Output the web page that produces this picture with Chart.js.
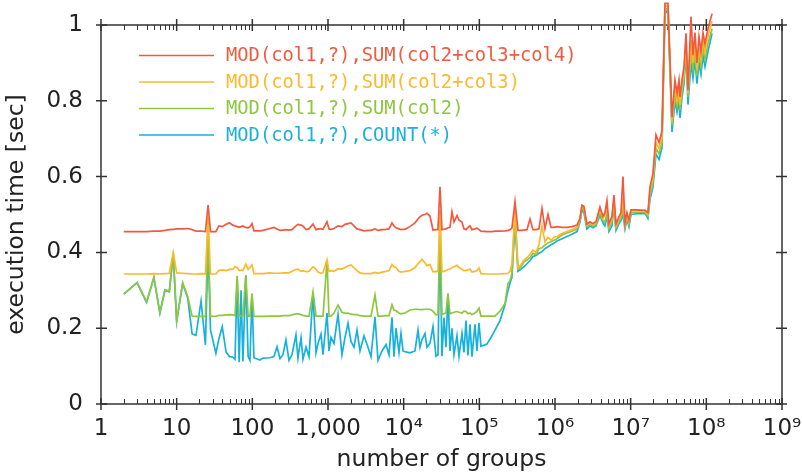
<!DOCTYPE html>
<html>
<head>
<meta charset="utf-8">
<script src="https://cdn.jsdelivr.net/npm/chart.js@4.4.0/dist/chart.umd.min.js"></script>
<style>
  html, body { margin: 0; padding: 0; background: #fff; }
</style>
</head>
<body>
<canvas id="timeChart" width="802" height="472"></canvas>
<script>
/* ============================
   DATA
============================ */
const groups = [
  2, 3, 4, 5, 6, 7, 8, 9, 10, 12,
  14, 16, 18, 21, 24, 26, 28, 33, 36, 40,
  45, 50, 55, 59, 63, 67, 71, 75, 82, 88,
  93, 99, 105, 126, 138, 171, 193, 212, 232, 254,
  278, 305, 334, 377, 401, 440, 467, 512, 561, 634,
  694, 738, 808, 859, 970, 1030, 1095, 1200, 1355, 1530,
  1676, 1837, 2013, 2205, 2416, 2647, 2990, 3377, 3700, 4179,
  4579, 5170, 5840, 6400, 7010, 7450, 7915, 8670, 9220, 9800,
  10410, 12110, 14110, 15460, 16430, 17460, 19130, 20330, 22270, 24400,
  26730, 28400, 30190, 32080, 34100, 36240, 38510, 40930, 43500, 46230,
  50640, 53820, 58960, 62660, 66590, 70770, 75210, 79930, 87550, 93050,
  98890, 105100, 126100, 146900, 161000, 187500, 218400, 239000, 254000, 270000,
  296000, 324000, 355000, 389000, 426000, 467000, 512000, 561000, 614000, 673000,
  737000, 808000, 885000, 969000, 1.06e6, 1.24e6, 1.44e6, 1.68e6, 1.95e6, 2.14e6,
  2.27e6, 2.41e6, 2.64e6, 2.9e6, 3.17e6, 3.48e6, 3.93e6, 4.3e6, 4.57e6, 4.86e6,
  5.16e6, 5.66e6, 6.01e6, 6.39e6, 7e6, 7.44e6, 7.91e6, 8.41e6, 8.93e6, 9.49e6,
  1.01e7, 1.21e7, 1.55e7, 1.69e7, 1.8e7, 1.97e7, 2.16e7, 2.37e7, 2.59e7, 2.84e7,
  3.11e7, 3.52e7, 3.85e7, 4.1e7, 4.35e7, 4.49e7, 4.77e7, 5.07e7, 5.39e7, 5.72e7,
  6.27e7, 6.66e7, 7.08e7, 7.52e7, 8e7, 8.5e7, 9.03e7, 9.6e7, 1.05e8, 1.19e8,
];

// MOD(col1,?),SUM(col2+col3+col4)
const modSum3 = [
  0.455, 0.455, 0.455, 0.456, 0.456, 0.458, 0.46, 0.461, 0.462, 0.462,
  0.463, 0.46, 0.456, 0.456, 0.455, 0.525, 0.455, 0.455, 0.47, 0.468,
  0.474, 0.478, 0.472, 0.47, 0.468, 0.466, 0.468, 0.47, 0.466, 0.465,
  0.468, 0.476, 0.457, 0.457, 0.458, 0.463, 0.466, 0.462, 0.458, 0.459,
  0.46, 0.459, 0.46, 0.47, 0.474, 0.472, 0.47, 0.46, 0.462, 0.475,
  0.46, 0.462, 0.462, 0.461, 0.481, 0.462, 0.461, 0.463, 0.47, 0.468,
  0.474, 0.476, 0.478, 0.47, 0.462, 0.46, 0.457, 0.458, 0.458, 0.462,
  0.458, 0.46, 0.461, 0.462, 0.478, 0.47, 0.465, 0.462, 0.46, 0.461,
  0.461, 0.468, 0.478, 0.488, 0.494, 0.498, 0.5, 0.503, 0.496, 0.459,
  0.46, 0.46, 0.573, 0.46, 0.461, 0.462, 0.465, 0.466, 0.507, 0.48,
  0.497, 0.485, 0.48, 0.462, 0.46, 0.466, 0.47, 0.46, 0.462, 0.464,
  0.46, 0.456, 0.455, 0.455, 0.456, 0.456, 0.457, 0.458, 0.46, 0.465,
  0.534, 0.458, 0.458, 0.459, 0.46, 0.488, 0.46, 0.46, 0.462, 0.516,
  0.463, 0.5, 0.466, 0.466, 0.468, 0.466, 0.466, 0.468, 0.472, 0.49,
  0.525, 0.522, 0.475, 0.481, 0.476, 0.481, 0.52, 0.495, 0.505, 0.537,
  0.475, 0.495, 0.551, 0.475, 0.494, 0.505, 0.6, 0.478, 0.505, 0.485,
  0.512, 0.512, 0.511, 0.505, 0.573, 0.608, 0.71, 0.69, 0.72, 1.057,
  1.057, 0.757, 0.855, 0.82, 0.855, 0.81, 0.855, 0.89, 0.978, 0.828,
  1.022, 0.92, 0.98, 0.9, 0.97, 0.93, 0.98, 0.95, 0.99, 1.03,
];

// MOD(col1,?),SUM(col2+col3)
const modSum2 = [
  0.343, 0.343, 0.343, 0.344, 0.343, 0.344, 0.345, 0.4, 0.346, 0.345,
  0.344, 0.343, 0.343, 0.344, 0.343, 0.494, 0.343, 0.343, 0.352, 0.354,
  0.352, 0.355, 0.355, 0.362, 0.36, 0.352, 0.353, 0.352, 0.369, 0.355,
  0.36, 0.367, 0.344, 0.344, 0.344, 0.346, 0.345, 0.345, 0.345, 0.346,
  0.346, 0.346, 0.35, 0.355, 0.356, 0.35, 0.352, 0.349, 0.35, 0.362,
  0.356, 0.348, 0.345, 0.346, 0.38, 0.35, 0.352, 0.35, 0.357, 0.356,
  0.36, 0.364, 0.367, 0.36, 0.352, 0.346, 0.344, 0.344, 0.344, 0.347,
  0.345, 0.348, 0.35, 0.352, 0.368, 0.362, 0.36, 0.35, 0.348, 0.349,
  0.35, 0.352, 0.36, 0.37, 0.376, 0.382, 0.372, 0.365, 0.368, 0.349,
  0.35, 0.349, 0.51, 0.349, 0.35, 0.352, 0.355, 0.356, 0.36, 0.362,
  0.366, 0.36, 0.355, 0.352, 0.352, 0.354, 0.356, 0.348, 0.35, 0.352,
  0.359, 0.344, 0.343, 0.343, 0.343, 0.343, 0.344, 0.345, 0.35, 0.37,
  0.517, 0.36, 0.368, 0.38, 0.386, 0.395, 0.406, 0.4, 0.42, 0.47,
  0.428, 0.44, 0.432, 0.44, 0.442, 0.45, 0.455, 0.46, 0.466, 0.488,
  0.522, 0.518, 0.472, 0.478, 0.473, 0.478, 0.515, 0.49, 0.498, 0.52,
  0.47, 0.488, 0.54, 0.47, 0.488, 0.498, 0.545, 0.474, 0.5, 0.48,
  0.51, 0.51, 0.51, 0.5, 0.56, 0.596, 0.69, 0.674, 0.705, 1.05,
  1.05, 0.745, 0.83, 0.8, 0.835, 0.79, 0.84, 0.875, 0.96, 0.82,
  0.96, 0.9, 0.95, 0.88, 0.94, 0.91, 0.96, 0.93, 0.97, 1.01,
];

// MOD(col1,?),SUM(col2)
const modSum1 = [
  0.29, 0.32, 0.27, 0.334, 0.241, 0.302, 0.298, 0.398, 0.219, 0.32,
  0.283, 0.232, 0.231, 0.231, 0.231, 0.45, 0.231, 0.231, 0.234, 0.234,
  0.235, 0.236, 0.235, 0.233, 0.338, 0.232, 0.233, 0.232, 0.34, 0.232,
  0.232, 0.292, 0.231, 0.231, 0.231, 0.232, 0.232, 0.232, 0.232, 0.233,
  0.233, 0.233, 0.235, 0.238, 0.238, 0.236, 0.234, 0.232, 0.232, 0.296,
  0.232, 0.232, 0.232, 0.232, 0.38, 0.232, 0.232, 0.24, 0.261, 0.242,
  0.239, 0.24, 0.237, 0.236, 0.236, 0.233, 0.232, 0.232, 0.232, 0.288,
  0.232, 0.232, 0.233, 0.233, 0.262, 0.248, 0.246, 0.24, 0.238, 0.239,
  0.24, 0.248, 0.25, 0.25, 0.249, 0.249, 0.25, 0.25, 0.25, 0.245,
  0.235, 0.236, 0.47, 0.236, 0.238, 0.24, 0.292, 0.238, 0.24, 0.242,
  0.244, 0.242, 0.24, 0.245, 0.244, 0.238, 0.24, 0.236, 0.24, 0.245,
  0.253, 0.232, 0.232, 0.232, 0.232, 0.245, 0.265, 0.318, 0.325, 0.345,
  0.5, 0.356, 0.362, 0.375, 0.38, 0.386, 0.398, 0.394, 0.41, 0.412,
  0.42, 0.425, 0.428, 0.432, 0.436, 0.446, 0.451, 0.456, 0.462, 0.485,
  0.518, 0.512, 0.468, 0.474, 0.469, 0.474, 0.505, 0.484, 0.48, 0.505,
  0.462, 0.48, 0.53, 0.465, 0.482, 0.49, 0.52, 0.468, 0.495, 0.475,
  0.506, 0.506, 0.506, 0.496, 0.55, 0.585, 0.675, 0.66, 0.69, 1.04,
  1.045, 0.735, 0.815, 0.785, 0.82, 0.775, 0.825, 0.86, 0.945, 0.81,
  0.93, 0.885, 0.93, 0.865, 0.925, 0.89, 0.94, 0.91, 0.95, 0.99,
];

// MOD(col1,?),COUNT(*)
const modCount = [
  0.29, 0.32, 0.268, 0.334, 0.24, 0.3, 0.296, 0.396, 0.218, 0.318,
  0.28, 0.185, 0.181, 0.272, 0.156, 0.42, 0.195, 0.134, 0.17, 0.204,
  0.137, 0.125, 0.124, 0.118, 0.33, 0.11, 0.3, 0.112, 0.338, 0.125,
  0.115, 0.285, 0.122, 0.116, 0.121, 0.122, 0.125, 0.151, 0.12, 0.13,
  0.169, 0.115, 0.13, 0.182, 0.121, 0.175, 0.118, 0.15, 0.125, 0.29,
  0.135, 0.16, 0.185, 0.13, 0.24, 0.14, 0.176, 0.16, 0.237, 0.13,
  0.175, 0.213, 0.165, 0.15, 0.195, 0.14, 0.18, 0.15, 0.125, 0.23,
  0.115, 0.14, 0.157, 0.13, 0.229, 0.125, 0.2, 0.136, 0.186, 0.14,
  0.138, 0.135, 0.14, 0.195, 0.15, 0.17, 0.186, 0.15, 0.16, 0.204,
  0.126, 0.13, 0.44, 0.126, 0.228, 0.15, 0.29, 0.14, 0.2, 0.13,
  0.18, 0.126, 0.186, 0.136, 0.22, 0.128, 0.21, 0.125, 0.21, 0.14,
  0.214, 0.152, 0.158, 0.18, 0.195, 0.22, 0.262, 0.3, 0.318, 0.335,
  0.48, 0.35, 0.356, 0.362, 0.37, 0.378, 0.389, 0.392, 0.398, 0.402,
  0.41, 0.415, 0.42, 0.424, 0.43, 0.436, 0.442, 0.448, 0.455, 0.48,
  0.512, 0.505, 0.462, 0.47, 0.465, 0.47, 0.498, 0.478, 0.47, 0.495,
  0.455, 0.47, 0.52, 0.458, 0.476, 0.484, 0.5, 0.462, 0.488, 0.468,
  0.5, 0.502, 0.503, 0.49, 0.54, 0.572, 0.66, 0.645, 0.675, 1.03,
  1.04, 0.718, 0.8, 0.77, 0.8, 0.755, 0.81, 0.845, 0.93, 0.79,
  0.9, 0.86, 0.91, 0.845, 0.9, 0.87, 0.92, 0.89, 0.93, 0.978,
];

const seriesLabels = [
  "MOD(col1,?),SUM(col2+col3+col4)",
  "MOD(col1,?),SUM(col2+col3)",
  "MOD(col1,?),SUM(col2)",
  "MOD(col1,?),COUNT(*)",
];
const seriesColors = ["#f15a3f", "#fdb92a", "#8dc63f", "#17b1dc"];

const tickValues = [1, 10, 100, 1e3, 1e4, 1e5, 1e6, 1e7, 1e8, 1e9];
const tickLabels = ["1", "10", "100", "1,000", "10⁴", "10⁵", "10⁶", "10⁷", "10⁸", "10⁹"];

/* ============================
   PLUGINS
============================ */
// box frame with ticks on all four sides
const framePlugin = {
  id: "frame",
  beforeDatasetsDraw(chart) {
    const { ctx, chartArea: a, scales } = chart;
    ctx.save();
    ctx.strokeStyle = "#333";

    // minor decade ticks
    ctx.lineWidth = 1;
    ctx.beginPath();
    tickValues.slice(0, -1).forEach((v) => {
      for (let m = 2; m < 10; m++) {
        const px = Math.round(scales.x.getPixelForValue(v * m)) + 0.5;
        ctx.moveTo(px, a.bottom);
        ctx.lineTo(px, a.bottom - 5);
        ctx.moveTo(px, a.top);
        ctx.lineTo(px, a.top + 5);
      }
    });
    ctx.stroke();

    ctx.lineWidth = 1.5;
    ctx.strokeRect(a.left, a.top, a.right - a.left, a.bottom - a.top);
    ctx.beginPath();
    tickValues.forEach((v) => {
      const px = scales.x.getPixelForValue(v);
      ctx.moveTo(px, a.bottom - 6);
      ctx.lineTo(px, a.bottom + 6);
      ctx.moveTo(px, a.top - 6);
      ctx.lineTo(px, a.top + 6);
    });
    scales.y.ticks.forEach((t) => {
      const py = scales.y.getPixelForValue(t.value);
      ctx.moveTo(a.left - 5, py);
      ctx.lineTo(a.left + 6, py);
      ctx.moveTo(a.right - 6, py);
      ctx.lineTo(a.right + 5, py);
    });
    ctx.stroke();
    ctx.restore();
  },
};

// legend inside the plot, text coloured like its line
const seriesLegend = {
  id: "seriesLegend",
  afterDatasetsDraw(chart) {
    const { ctx, chartArea: a } = chart;
    ctx.save();
    ctx.font = '18.8px "DejaVu Sans Mono", monospace';
    ctx.textBaseline = "middle";
    chart.data.datasets.forEach((ds, i) => {
      const y = a.top + 30.5 + i * 26.5;
      ctx.strokeStyle = ds.borderColor;
      ctx.lineWidth = 1.7;
      ctx.beginPath();
      ctx.moveTo(a.left + 38, y);
      ctx.lineTo(a.left + 113, y);
      ctx.stroke();
      ctx.fillStyle = ds.borderColor;
      ctx.fillText(ds.label, a.left + 125, y + 1);
    });
    ctx.restore();
  },
};

/* ============================
   CHART
============================ */
const seriesValues = [modSum3, modSum2, modSum1, modCount];

const datasets = seriesValues.map((vals, i) => ({
  label: seriesLabels[i],
  data: groups.map((g, j) => ({ x: g, y: vals[j] })),
  borderColor: seriesColors[i],
  borderWidth: 1.7,
  pointRadius: 0,
  tension: 0,
  clip: false,
}));

const axisFont = { family: '"DejaVu Sans", sans-serif', size: 23 };
const titleFont = { family: '"DejaVu Sans", sans-serif', size: 23.5 };

new Chart(document.getElementById("timeChart"), {
  type: "line",
  data: { datasets },
  options: {
    responsive: false,
    animation: false,
    layout: { padding: { top: 25, right: 20, left: 0, bottom: 0 } },
    plugins: {
      legend: { display: false },
      tooltip: { enabled: false },
    },
    scales: {
      x: {
        type: "logarithmic",
        min: 1,
        max: 1e9,
        grid: { display: false, drawTicks: false },
        border: { display: false },
        afterBuildTicks(scale) {
          scale.ticks = tickValues.map((v) => ({ value: v }));
        },
        afterFit(scale) {
          scale.height = 68;
          scale.paddingLeft = 0;
          scale.paddingRight = 0;
        },
        ticks: {
          autoSkip: false,
          maxRotation: 0,
          padding: 11,
          color: "#222",
          font: axisFont,
          callback: (v, i) => tickLabels[i],
        },
        title: {
          display: true,
          text: "number of groups",
          color: "#222",
          font: titleFont,
          padding: { top: 0, bottom: -2 },
        },
      },
      y: {
        min: 0,
        max: 1,
        grid: { display: false, drawTicks: false },
        border: { display: false },
        afterFit(scale) {
          scale.width = 101;
          scale.paddingTop = 0;
          scale.paddingBottom = 0;
        },
        ticks: {
          stepSize: 0.2,
          padding: 18,
          color: "#222",
          font: axisFont,
          callback: (v) => String(+v.toFixed(1)),
        },
        title: {
          display: true,
          text: "execution time [sec]",
          color: "#222",
          font: titleFont,
          padding: { top: 3, bottom: 0 },
        },
      },
    },
  },
  plugins: [framePlugin, seriesLegend],
});
</script>
</body>
</html>
